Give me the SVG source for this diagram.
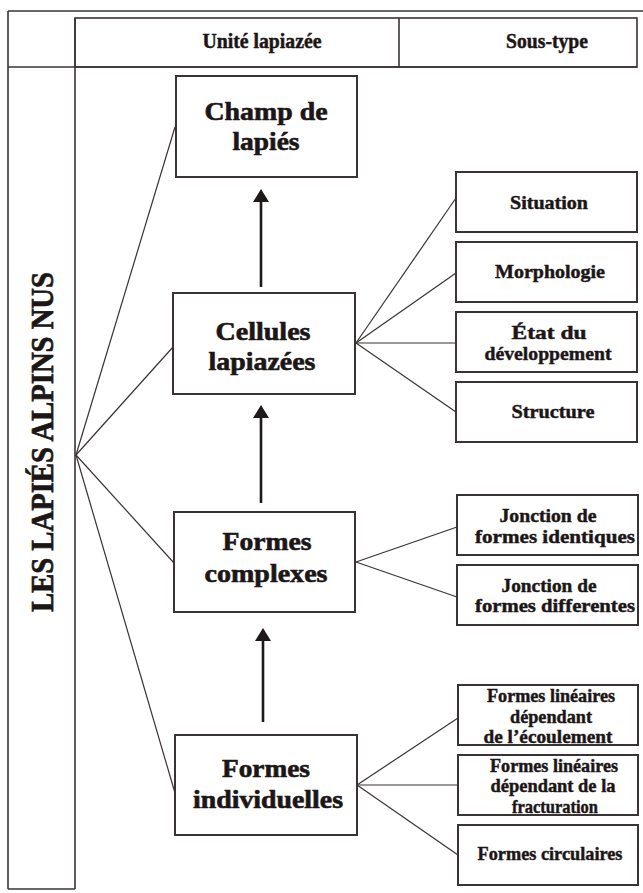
<svg xmlns="http://www.w3.org/2000/svg" width="643" height="893" viewBox="0 0 643 893">
<style>
.frame{fill:none;stroke:#3a3333;stroke-width:1.6}
.box{fill:#ffffff;stroke:#3a3333;stroke-width:2}
.thin{fill:none;stroke:#3a3333;stroke-width:1.2}
.arr{fill:none;stroke:#1e1818;stroke-width:2.6}
text{font-family:'Liberation Serif','Times New Roman',Times,serif;font-weight:700;fill:#1c1616;stroke:#1c1616;stroke-width:0.45;text-anchor:middle}
.hd{font-size:20px}
.mn{font-size:25px;stroke-width:0.6}
.sb{font-size:19px}
.tt{font-size:31px;stroke-width:0.7}
</style>
<defs>
<marker id="ah" viewBox="0 0 13 16" refX="8" refY="8" markerWidth="13" markerHeight="16" markerUnits="userSpaceOnUse" orient="auto">
<path d="M0,0 L13,8 L0,16 Z" fill="#1e1818"/>
</marker>
</defs>
<rect width="643" height="893" fill="#ffffff"/>
<g id="frame">
<line class="frame" x1="8" y1="11" x2="643" y2="11"/>
<line class="frame" x1="8" y1="11" x2="8" y2="889"/>
<line class="frame" x1="75" y1="18" x2="75" y2="889"/>
<line class="frame" x1="8" y1="889" x2="75" y2="889"/>
<line class="frame" x1="8" y1="67" x2="637" y2="67"/>
<rect class="frame" x="75" y="18" width="562" height="49"/>
<line class="frame" x1="399" y1="18" x2="399" y2="67"/>
<text class="hd" x="262" y="48" textLength="119" lengthAdjust="spacingAndGlyphs">Unité lapiazée</text>
<text class="hd" x="547" y="48" textLength="82" lengthAdjust="spacingAndGlyphs">Sous-type</text>
</g>
<g id="title">
<text class="tt" transform="translate(53,442) rotate(-90)" textLength="340" lengthAdjust="spacingAndGlyphs">LES LAPIÉS ALPINS NUS</text>
</g>
<g id="connectors">
<line class="thin" x1="76" y1="455" x2="175" y2="127"/>
<line class="thin" x1="76" y1="455" x2="173" y2="347"/>
<line class="thin" x1="76" y1="455" x2="174" y2="563"/>
<line class="thin" x1="76" y1="455" x2="175" y2="793"/>
<line class="thin" x1="356" y1="343" x2="456" y2="198"/>
<line class="thin" x1="356" y1="343" x2="456" y2="273"/>
<line class="thin" x1="356" y1="343" x2="456" y2="343"/>
<line class="thin" x1="356" y1="343" x2="456" y2="412"/>
<line class="thin" x1="356" y1="562" x2="457" y2="527"/>
<line class="thin" x1="356" y1="562" x2="457" y2="597"/>
<line class="thin" x1="357" y1="785" x2="458" y2="718"/>
<line class="thin" x1="357" y1="785" x2="458" y2="785"/>
<line class="thin" x1="357" y1="785" x2="458" y2="855"/>
<line class="arr" x1="261" y1="287" x2="261" y2="194" marker-end="url(#ah)"/>
<line class="arr" x1="261" y1="503" x2="261" y2="410" marker-end="url(#ah)"/>
<line class="arr" x1="263" y1="722" x2="263" y2="633" marker-end="url(#ah)"/>
</g>
<g id="champ">
<rect class="box" x="176" y="76" width="181" height="101"/>
<text class="mn" x="266" y="120" textLength="123" lengthAdjust="spacingAndGlyphs">Champ de</text>
<text class="mn" x="266" y="150" textLength="67" lengthAdjust="spacingAndGlyphs">lapiés</text>
</g>
<g id="cellules">
<rect class="box" x="173" y="293" width="182" height="101"/>
<text class="mn" x="263" y="340" textLength="95" lengthAdjust="spacingAndGlyphs">Cellules</text>
<text class="mn" x="262" y="370" textLength="107" lengthAdjust="spacingAndGlyphs">lapiazées</text>
</g>
<g id="complexes">
<rect class="box" x="174" y="512" width="181" height="100"/>
<text class="mn" x="267" y="550" textLength="89" lengthAdjust="spacingAndGlyphs">Formes</text>
<text class="mn" x="266" y="582" textLength="123" lengthAdjust="spacingAndGlyphs">complexes</text>
</g>
<g id="individuelles">
<rect class="box" x="175" y="735" width="182" height="100"/>
<text class="mn" x="266" y="777" textLength="88" lengthAdjust="spacingAndGlyphs">Formes</text>
<text class="mn" x="268" y="808" textLength="150" lengthAdjust="spacingAndGlyphs">individuelles</text>
</g>
<g id="situation">
<rect class="box" x="456" y="172" width="181" height="60"/>
<text class="sb" x="549" y="209" textLength="78" lengthAdjust="spacingAndGlyphs">Situation</text>
</g>
<g id="morphologie">
<rect class="box" x="456" y="242" width="181" height="60"/>
<text class="sb" x="550" y="278" textLength="110" lengthAdjust="spacingAndGlyphs">Morphologie</text>
</g>
<g id="etat">
<rect class="box" x="456" y="312" width="181" height="60"/>
<text class="sb" x="549" y="339" textLength="75" lengthAdjust="spacingAndGlyphs">État du</text>
<text class="sb" x="548" y="360" textLength="127" lengthAdjust="spacingAndGlyphs">développement</text>
</g>
<g id="structure">
<rect class="box" x="456" y="382" width="181" height="60"/>
<text class="sb" x="553" y="418" textLength="83" lengthAdjust="spacingAndGlyphs">Structure</text>
</g>
<g id="jonction-identiques">
<rect class="box" x="457" y="495" width="181" height="60"/>
<text class="sb" x="548" y="522" textLength="97" lengthAdjust="spacingAndGlyphs">Jonction de</text>
<text class="sb" x="555" y="543" textLength="160" lengthAdjust="spacingAndGlyphs">formes identiques</text>
</g>
<g id="jonction-differentes">
<rect class="box" x="457" y="565" width="181" height="60"/>
<text class="sb" x="549" y="592" textLength="95" lengthAdjust="spacingAndGlyphs">Jonction de</text>
<text class="sb" x="555" y="612" textLength="160" lengthAdjust="spacingAndGlyphs">formes differentes</text>
</g>
<g id="lineaires-ecoulement">
<rect class="box" x="458" y="685" width="180" height="60"/>
<text class="sb" x="551" y="702" textLength="128" lengthAdjust="spacingAndGlyphs">Formes linéaires</text>
<text class="sb" x="551" y="723" textLength="82" lengthAdjust="spacingAndGlyphs">dépendant</text>
<text class="sb" x="548" y="743" textLength="129" lengthAdjust="spacingAndGlyphs">de l’écoulement</text>
</g>
<g id="lineaires-fracturation">
<rect class="box" x="458" y="755" width="180" height="60"/>
<text class="sb" x="554" y="772" textLength="128" lengthAdjust="spacingAndGlyphs">Formes linéaires</text>
<text class="sb" x="553" y="792" textLength="125" lengthAdjust="spacingAndGlyphs">dépendant de la</text>
<text class="sb" x="555" y="813" textLength="86" lengthAdjust="spacingAndGlyphs">fracturation</text>
</g>
<g id="circulaires">
<rect class="box" x="458" y="825" width="180" height="60"/>
<text class="sb" x="550" y="860" textLength="145" lengthAdjust="spacingAndGlyphs">Formes circulaires</text>
</g>
</svg>
